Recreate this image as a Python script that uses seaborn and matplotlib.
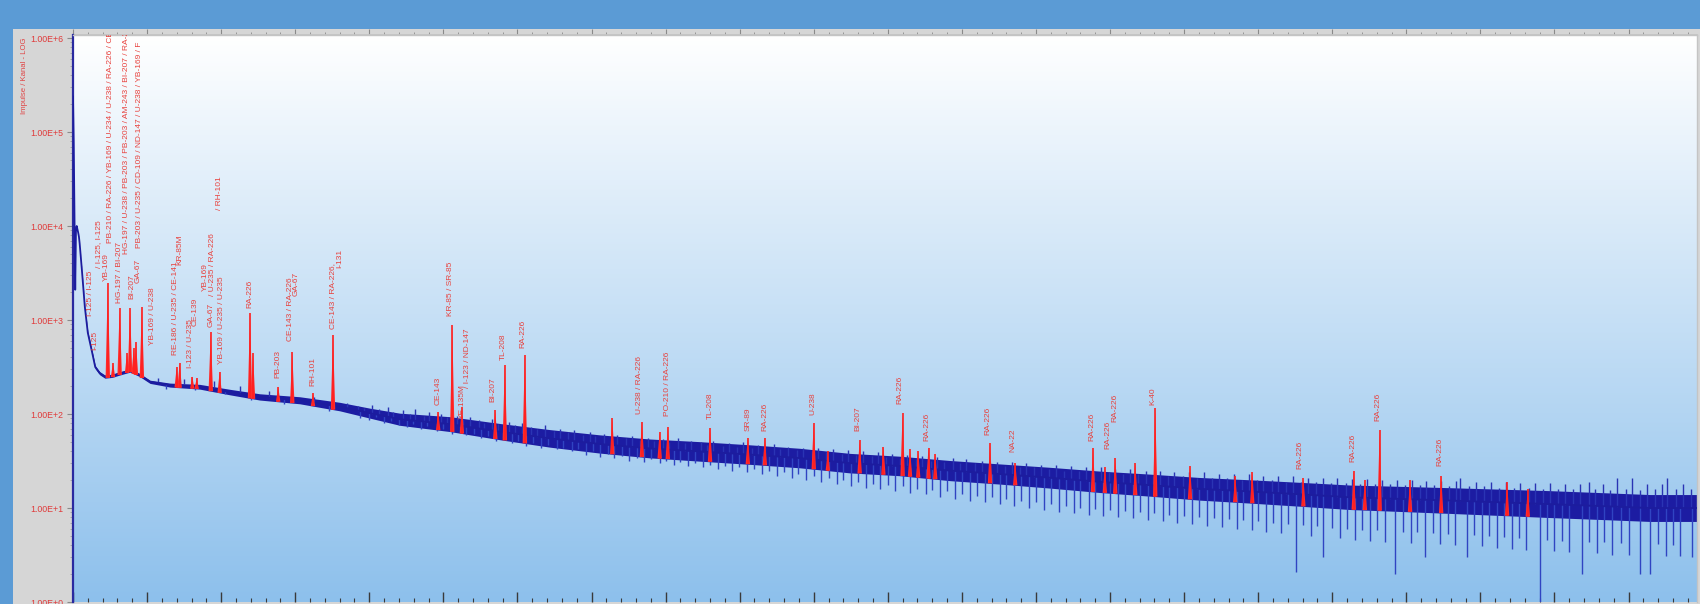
import numpy as np
import matplotlib
matplotlib.use("Agg")
import matplotlib.pyplot as plt
from matplotlib.patches import Rectangle
from matplotlib.colors import LinearSegmentedColormap
from matplotlib.ticker import FixedLocator, LogLocator, MultipleLocator, NullFormatter
import seaborn as sns

# ---- spectrum continuum (energy in keV, counts per channel) ----
spec_keV = [0, 1, 3, 4, 5, 7, 8, 9, 12, 16, 20, 26, 30, 36, 43, 53, 63, 77, 90, 104,
            131, 171, 212, 252, 306, 360, 401, 441, 509, 576, 644, 711, 779, 846, 914,
            981, 1049, 1116, 1184, 1251, 1319, 1386, 1454, 1521, 1589, 1656, 1724, 1791,
            1859, 1926, 1994, 2061, 2129, 2192]
spec_counts = [240000, 76000, 2100, 9000, 10000, 8500, 7700, 6500, 3400, 1370, 730, 445,
               316, 272, 250, 255, 270, 290, 260, 220, 203, 195, 171, 152, 140, 120, 102,
               88, 78, 65, 55, 48, 43, 40, 37, 34, 30, 28, 25, 23, 21, 19, 17.5, 16, 15,
               14, 13, 12.5, 12, 11.5, 11, 10.5, 10, 10]
# statistical scatter of the dense channel band (multiplicative half-width)
band_spread = [1.0, 1.0, 1.0, 1.0, 1.0, 1.0, 1.0, 1.0, 1.02, 1.03, 1.04, 1.04, 1.04, 1.04,
               1.04, 1.04, 1.04, 1.04, 1.04, 1.04, 1.05, 1.06, 1.07, 1.08, 1.09, 1.11, 1.13,
               1.16, 1.20, 1.22, 1.24, 1.25, 1.26, 1.27, 1.27, 1.27, 1.27, 1.27, 1.28, 1.28,
               1.29, 1.30, 1.31, 1.32, 1.33, 1.34, 1.35, 1.36, 1.37, 1.38, 1.39, 1.39, 1.39,
               1.39]

# ---- single channels reaching above the band ----
up_keV = [115, 150, 190, 225, 265, 325, 370,
          385, 393, 404, 413, 425, 432, 446, 455, 462, 474, 481, 497, 505, 519, 527, 536,
          548, 555, 566, 574, 589, 597, 606, 618, 626, 637, 649, 657, 668, 676, 689, 698,
          705, 717, 726, 734, 747, 755, 766, 776, 784, 797, 805, 817, 826, 834, 848, 856,
          864, 877, 885, 896, 904, 917, 925, 934, 946, 955, 965, 977, 985, 997, 1006, 1017,
          1026, 1038, 1046, 1057, 1066, 1078, 1087, 1097, 1106, 1117, 1126, 1138, 1146,
          1158, 1167, 1176, 1188, 1197, 1206, 1218, 1227, 1238, 1247, 1258, 1267, 1278,
          1287, 1298, 1307, 1318, 1327, 1338, 1347, 1358, 1367, 1378, 1388, 1398, 1407,
          1418, 1427, 1438, 1448, 1458, 1467, 1478, 1487, 1498, 1507, 1518, 1527, 1538,
          1547, 1558, 1567, 1578, 1588, 1598, 1607, 1618, 1627, 1638, 1647, 1658, 1667,
          1678, 1687, 1698, 1707, 1718, 1727, 1738, 1747, 1758, 1767, 1778, 1787, 1798,
          1807, 1818, 1827, 1838, 1847, 1858, 1867, 1872, 1885, 1894, 1905, 1914, 1925,
          1934, 1945, 1954, 1965, 1974, 1985, 1994, 2005, 2014, 2025, 2034, 2046, 2055,
          2066, 2075, 2084, 2096, 2105, 2116, 2125, 2136, 2145, 2152, 2164, 2173, 2184]
up_counts = [240, 235, 225, 200, 175, 150, 130,
             122, 116, 125, 112, 118, 104, 110, 101, 112, 96, 104, 100, 92, 95, 88, 93,
             86, 80, 88, 78, 82, 76, 80, 72, 70, 76, 66, 70, 64, 68, 60, 64,
             58, 62, 56, 60, 55, 58, 53, 56, 51, 54, 50, 55, 49, 52, 50, 47,
             52, 46, 49, 45, 50, 44, 47, 43, 48, 42, 45, 41, 44, 40, 43, 39,
             42, 38, 41, 37, 40, 36, 39, 35, 38, 34, 37, 33, 36,
             32, 35, 31, 34, 30, 33, 30, 32, 29, 31, 28, 31, 27,
             30, 27, 29, 26, 29, 25, 28, 25, 27, 24, 27, 24, 26,
             23, 26, 23, 25, 22, 25, 22, 24, 22, 24, 21, 24, 21,
             23, 21, 23, 20, 23, 20, 22, 20, 22, 19, 22, 19, 21,
             19, 21, 18.5, 21, 18.5, 20.5, 18, 20.5, 18, 20, 18, 20, 17.5,
             20, 17.5, 19.5, 17.5, 19.5, 17, 19.5, 21, 17, 19, 17, 19, 16.5,
             19, 16.5, 18.5, 16.5, 18.5, 16, 18.5, 16, 18, 16, 18, 19, 16,
             18, 15.5, 21, 16, 21, 15.5, 18, 16, 18, 21, 16, 18, 16]

# ---- single channels dropping below the band ----
dn_keV = [125, 165, 205, 240, 285, 345,
          388, 399, 409, 420, 429, 440, 451, 459, 470, 478, 491, 500, 512, 522, 531, 542,
          551, 560, 571, 580, 592, 601, 611, 621, 632, 641, 653, 662, 673, 682, 693, 702,
          712, 722, 731, 741, 751, 761, 771, 780, 792, 801, 811, 820, 830, 840, 850, 860,
          871, 880, 890, 899, 910, 919, 930, 940, 950, 960, 970, 979, 990, 1000, 1010, 1020,
          1031, 1040, 1050, 1060, 1071, 1080, 1090, 1100, 1110, 1120, 1130, 1140, 1151,
          1160, 1170, 1180, 1191, 1200, 1211, 1220, 1231, 1240, 1251, 1260, 1270, 1280,
          1291, 1300, 1311, 1320, 1331, 1340, 1351, 1360, 1371, 1380, 1391, 1400, 1411,
          1420, 1431, 1440, 1451, 1460, 1471, 1480, 1491, 1500, 1511, 1520, 1531, 1540,
          1551, 1560, 1571, 1580, 1591, 1600, 1611, 1620, 1631, 1640, 1651, 1660, 1671,
          1680, 1688, 1700, 1711, 1720, 1731, 1740, 1751, 1760, 1771, 1785, 1795, 1806,
          1815, 1825, 1836, 1846, 1856, 1866, 1882, 1892, 1902, 1912, 1922, 1932, 1942,
          1952, 1962, 1980, 1990, 2000, 2010, 2020, 2037, 2047, 2057, 2067, 2077, 2090,
          2100, 2115, 2129, 2140, 2150, 2160, 2170, 2186]
dn_counts = [185, 180, 165, 140, 128, 108,
             90, 86, 92, 80, 84, 76, 72, 78, 70, 74, 66, 70, 62, 66, 60, 62,
             55, 58, 52, 55, 49, 52, 46, 49, 44, 47, 42, 44, 40, 42, 37, 40,
             35, 38, 34, 36, 32, 34, 31, 33, 30, 32, 29, 31, 28, 30, 27, 29,
             26, 28, 25, 27, 24, 26, 23, 25, 22, 24, 21, 23, 20, 22, 19, 21,
             18, 20, 17, 19, 16.5, 18, 16, 17.5, 15, 17, 14.5, 16, 14,
             15.5, 13, 15, 12.5, 14, 12, 13.5, 11.5, 13, 11, 12.5, 10.5, 12,
             10, 11.5, 9.5, 11, 9, 10.5, 8.8, 10, 8.5, 9.8, 8.2, 9.5, 8,
             9.2, 7.8, 9, 7.5, 8.8, 7.2, 8.5, 7, 8.2, 6.8, 8, 6.5, 7.8,
             6.3, 7.6, 6, 7.4, 5.8, 7.2, 5.6, 7, 5.4, 6.8, 2.1, 6.6, 5,
             6.4, 3.0, 6.2, 4.8, 6, 4.6, 5.9, 4.5, 5.8, 4.4, 2.0, 5.6, 4.2,
             5.5, 3.0, 5.4, 4.1, 5.3, 4, 3.0, 5.1, 3.9, 5, 3.8, 4.9, 3.7,
             4.8, 3.6, 0.8, 4.6, 3.5, 4.5, 3.4, 2.0, 4.4, 3.3, 4.3, 3.2, 4.2,
             3.2, 2.0, 2.0, 4.1, 3.1, 4.0, 3.1, 3.0]

# ---- identified photopeaks (centroid keV, peak counts) ----
peak_keV = [47, 54, 63, 73, 77, 82, 85, 93, 140, 144, 161, 167, 186, 198, 239, 243, 277,
            296, 324, 351, 493, 512, 525, 570, 583, 610, 728, 768, 792, 803, 860, 911, 934,
            1000, 1019, 1062, 1094, 1120, 1130, 1141, 1155, 1164, 1238, 1272, 1377, 1393,
            1407, 1434, 1461, 1508, 1569, 1592, 1661, 1729, 1744, 1764, 1805, 1847, 1936,
            1964]
peak_counts = [2470, 350, 1340, 450, 1340, 500, 580, 1370, 315, 350, 250, 240, 740, 280,
               1180, 445, 195, 457, 167, 690, 105, 890, 120, 110, 331, 425, 90, 82, 65, 73,
               71, 56, 56, 80, 40, 53, 45, 102, 42, 40, 44, 38, 49, 30, 44, 27, 34, 30, 116,
               28, 22, 24, 21, 25, 20, 67, 20, 22, 19, 16]

# ---- nuclide identification labels (text, keV, counts at label foot) ----
label_text = [
    "I-125", "I-125 / I-125", "/ I-125, I-125",
    "PB-210 / RA-226 / YB-169 / U-234 / U-238 / RA-226 / CE",
    "YB-169", "HG-197 / BI-207",
    "HG-197 / U-238 / PB-203 / PB-203 / AM-243 / BI-207 / RA-22",
    "BI-207", "GA-67",
    "PB-203 / U-235 / CD-109 / ND-147 / U-238 / YB-169 / F",
    "YB-169 / U-238", "RE-186 / U-235 / CE-141", "KR-85M", "I-123 / U-235", "CE-139",
    "YB-169", "GA-67", "/ U-235 / RA-226", "/ RH-101", "YB-169 / U-235 / U-235",
    "RA-226", "PB-203", "CE-143 / RA-226", "GA-67", "RH-101", "CE-143 / RA-226,", "I-131",
    "CE-143", "KR-85 / SR-85", "XE-135M", "/ I-123 / ND-147", "BI-207", "TL-208", "RA-226",
    "U-238 / RA-226", "PO-210 / RA-226", "TL-208", "SR-89", "RA-226", "U-238", "BI-207",
    "RA-226", "RA-226", "RA-226", "NA-22", "RA-226", "RA-226", "RA-226", "K-40",
    "RA-226", "RA-226", "RA-226", "RA-226",
]
label_keV = [30, 23, 34, 50, 45, 63, 72, 80, 88, 90, 108, 138, 144, 158, 165, 178, 186,
             189, 198, 201, 239, 277, 293, 301, 324, 351, 360, 493, 509, 525, 532, 567, 581,
             608, 765, 803, 860, 911, 934, 999, 1060, 1116, 1153, 1235, 1269, 1376, 1397,
             1407, 1458, 1656, 1728, 1762, 1845]
label_counts = [457, 1050, 3400, 6270, 2530, 1450, 4900, 1620, 2400, 5600, 520, 405, 3670,
                294, 840, 1940, 820, 1720, 14200, 330, 1280, 230, 570, 1750, 190, 780, 3400,
                119, 1050, 86, 180, 130, 360, 480, 97, 91, 86, 64, 63, 93, 63, 124, 50, 57,
                38, 50, 41, 80, 119, 25, 30, 82, 27]

ytick_values = [1, 10, 100, 1000, 10000, 100000, 1000000]
ytick_labels = ["1.00E+0", "1.00E+1", "1.00E+2", "1.00E+3", "1.00E+4", "1.00E+5", "1.00E+6"]
y_title = "Impulse / Kanal - LOG"

sns.set_theme(style="white")
plt.rcParams["font.family"] = ["Liberation Sans", "DejaVu Sans"]

W, H = 1700, 604
fig = plt.figure(figsize=(W / 100, H / 100), dpi=100)
fig.patch.set_facecolor("#5b9bd5")
panel = Rectangle((13 / W, 0), (W - 13) / W, (H - 29) / H, transform=fig.transFigure,
                  facecolor="#d6d6d6", edgecolor="none")
panel.set_zorder(-5)
fig.add_artist(panel)

ax = fig.add_axes([73 / W, 2 / H, (1697 - 73) / W, (602 - 35) / H])
ax.set_zorder(3)
ax.set_yscale("log")

# white-to-sky-blue backdrop of the plotting area
grad = np.linspace(1, 0, 256).reshape(-1, 1)
cmap = LinearSegmentedColormap.from_list("sky", ["#8dc0ec", "#ffffff"])
ax.imshow(grad, extent=[0, 1, 0, 1], transform=ax.transAxes, aspect="auto",
          cmap=cmap, zorder=0, interpolation="bicubic")

xmax = 1624 * 1.35
ymax = 10 ** (567 / 94)

kev = np.asarray(spec_keV, float)
cnt = np.asarray(spec_counts, float)
spr = np.asarray(band_spread, float)


def level(e):
    return 10 ** np.interp(e, kev, np.log10(cnt))


def spread(e):
    return np.interp(e, kev, spr)


# dense channel band
ax.fill_between(kev, cnt / spr, cnt * spr, color="#1c1ca2", lw=0, zorder=2)

# outlier channels above and below the band
uk = np.asarray(up_keV, float)
dk = np.asarray(dn_keV, float)
ax.vlines(uk, level(uk), up_counts, colors="#2a34b4", linewidth=1.0, zorder=2)
ax.vlines(dk, level(dk), dn_counts, colors="#3044c2", linewidth=1.0, zorder=2)

# continuum trace
sns.lineplot(x=spec_keV, y=spec_counts, ax=ax, color="#1c1c9e", linewidth=1.3,
             estimator=None, sort=False, zorder=3)

# photopeaks in red
pk = np.asarray(peak_keV, float)
pc = np.asarray(peak_counts, float)
half_w = 3.0
for e, top in zip(pk, pc):
    base = level(e) / spread(e)
    ax.fill([e - half_w, e, e + half_w], [base, top, base], color="#ff2b2b",
            lw=0, zorder=4)
ax.vlines(pk, level(pk) / spread(pk), pc, colors="#ff2020", linewidth=1.2, zorder=4)

# nuclide labels
for txt, e, c in zip(label_text, label_keV, label_counts):
    ax.text(e, c * 1.04, txt, rotation=90, ha="center", va="bottom", fontsize=6.0,
            color="#e8423e", family=["Liberation Sans Narrow", "Liberation Sans"],
            clip_on=True, zorder=5)

ax.set_autoscale_on(False)
ax.set_xlim(0, xmax)
ax.set_ylim(1, ymax)
ax.set_xlabel("")
ax.set_ylabel("")

# axis styling
ax.yaxis.set_major_locator(FixedLocator(ytick_values))
ax.set_yticklabels(ytick_labels)
ax.yaxis.set_minor_locator(LogLocator(base=10, subs=np.arange(2, 10)))
ax.yaxis.set_minor_formatter(NullFormatter())
ax.tick_params(axis="y", which="major", left=True, length=4, width=0.8, color="#8a8a8a",
               labelsize=6.3, labelcolor="#e03a3a", pad=3)
ax.tick_params(axis="y", which="minor", left=True, length=2, width=0.6, color="#a0a0a0")

ax.xaxis.set_major_locator(MultipleLocator(100))
ax.xaxis.set_minor_locator(MultipleLocator(20))
ax.tick_params(axis="x", which="both", bottom=True, top=False, labelbottom=False,
               direction="in", color="#3a3a3a")
ax.tick_params(axis="x", which="major", length=7, width=1.0)
ax.tick_params(axis="x", which="minor", length=3, width=0.8)

sec = ax.secondary_xaxis("top")
sec.xaxis.set_major_locator(MultipleLocator(100))
sec.xaxis.set_minor_locator(MultipleLocator(20))
sec.tick_params(axis="x", which="both", direction="out", color="#8a8a8a",
                labeltop=False)
sec.tick_params(axis="x", which="major", length=4, width=0.8)
sec.tick_params(axis="x", which="minor", length=2, width=0.6)
sec.spines["top"].set_color("#c4c4c4")

for side in ("top", "right"):
    ax.spines[side].set_color("#c4c4c4")
    ax.spines[side].set_linewidth(1.0)
ax.spines["bottom"].set_visible(False)
ax.spines["left"].set_color("#2a2aa0")
ax.spines["left"].set_linewidth(1.6)
ax.grid(False)

fig.text(25 / W, 1 - 38 / H, y_title, rotation=90, ha="center", va="top",
         color="#e04444", fontsize=5.6)

fig.savefig("out.png", dpi=100, facecolor=fig.get_facecolor())
